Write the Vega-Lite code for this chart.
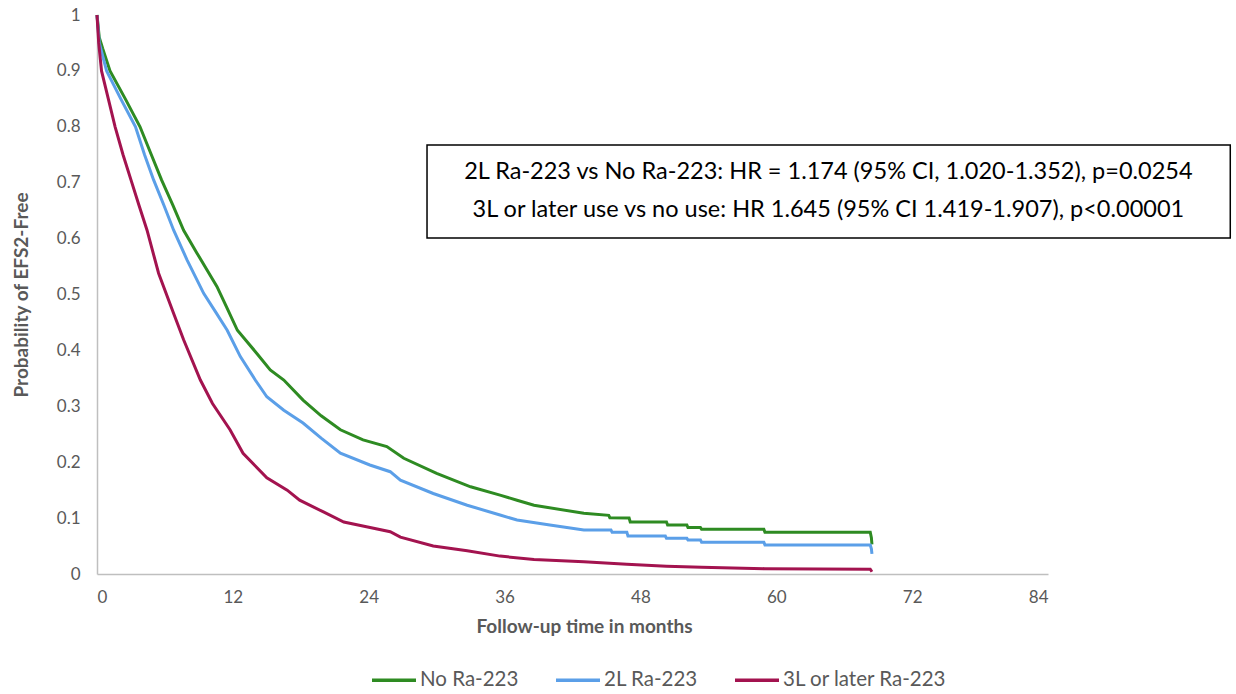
{
  "$schema": "https://vega.github.io/schema/vega-lite/v6.json",
  "autosize": "none",
  "width": 951,
  "height": 559,
  "padding": {"left": 97, "top": 15, "right": 188, "bottom": 120},
  "config": {
    "view": {"stroke": null},
    "font": "Lato",
    "axis": {"labelFont": "Lato", "titleFont": "Lato", "labelColor": "#595959", "titleColor": "#595959", "domainColor": "#bfbfbf", "domainWidth": 1.5, "ticks": false, "grid": false, "labelFontSize": 17, "titleFontSize": 19, "titleFontWeight": "bold"},
    "legend": {"labelFont": "Lato", "labelColor": "#595959", "labelFontSize": 20.5, "labelLimit": 400}
  },
  "datasets": {
    "km": [
      {"g": "No Ra-223", "t": 0, "s": 1},
      {"g": "No Ra-223", "t": 0.2, "s": 0.96},
      {"g": "No Ra-223", "t": 0.5, "s": 0.94},
      {"g": "No Ra-223", "t": 1.15, "s": 0.9},
      {"g": "No Ra-223", "t": 2.5, "s": 0.85},
      {"g": "No Ra-223", "t": 3.8, "s": 0.8},
      {"g": "No Ra-223", "t": 4.8, "s": 0.75},
      {"g": "No Ra-223", "t": 5.7, "s": 0.705},
      {"g": "No Ra-223", "t": 6.7, "s": 0.66},
      {"g": "No Ra-223", "t": 7.65, "s": 0.615},
      {"g": "No Ra-223", "t": 8.83, "s": 0.574},
      {"g": "No Ra-223", "t": 10.6, "s": 0.514},
      {"g": "No Ra-223", "t": 11.5, "s": 0.475},
      {"g": "No Ra-223", "t": 12.4, "s": 0.436},
      {"g": "No Ra-223", "t": 14.1, "s": 0.395},
      {"g": "No Ra-223", "t": 15.3, "s": 0.365},
      {"g": "No Ra-223", "t": 16.5, "s": 0.347},
      {"g": "No Ra-223", "t": 18.2, "s": 0.311},
      {"g": "No Ra-223", "t": 19.8, "s": 0.283},
      {"g": "No Ra-223", "t": 21.5, "s": 0.258},
      {"g": "No Ra-223", "t": 23.5, "s": 0.24},
      {"g": "No Ra-223", "t": 25.6, "s": 0.228},
      {"g": "No Ra-223", "t": 27.1, "s": 0.207},
      {"g": "No Ra-223", "t": 30.0, "s": 0.18},
      {"g": "No Ra-223", "t": 33.0, "s": 0.156},
      {"g": "No Ra-223", "t": 35.6, "s": 0.141},
      {"g": "No Ra-223", "t": 37.1, "s": 0.132},
      {"g": "No Ra-223", "t": 38.6, "s": 0.123},
      {"g": "No Ra-223", "t": 43.0, "s": 0.1085},
      {"g": "No Ra-223", "t": 45.2, "s": 0.105},
      {"g": "No Ra-223", "t": 45.3, "s": 0.1007},
      {"g": "No Ra-223", "t": 47.0, "s": 0.1},
      {"g": "No Ra-223", "t": 47.1, "s": 0.093},
      {"g": "No Ra-223", "t": 50.3, "s": 0.093},
      {"g": "No Ra-223", "t": 50.4, "s": 0.0877},
      {"g": "No Ra-223", "t": 52.1, "s": 0.0877},
      {"g": "No Ra-223", "t": 52.2, "s": 0.083},
      {"g": "No Ra-223", "t": 53.3, "s": 0.083},
      {"g": "No Ra-223", "t": 53.4, "s": 0.08},
      {"g": "No Ra-223", "t": 58.9, "s": 0.08},
      {"g": "No Ra-223", "t": 59.0, "s": 0.0746},
      {"g": "No Ra-223", "t": 68.3, "s": 0.0746},
      {"g": "No Ra-223", "t": 68.4, "s": 0.065},
      {"g": "No Ra-223", "t": 68.45, "s": 0.053},

      {"g": "2L Ra-223", "t": 0, "s": 1},
      {"g": "2L Ra-223", "t": 0.2, "s": 0.95},
      {"g": "2L Ra-223", "t": 0.85, "s": 0.9},
      {"g": "2L Ra-223", "t": 2.1, "s": 0.85},
      {"g": "2L Ra-223", "t": 3.4, "s": 0.8},
      {"g": "2L Ra-223", "t": 4.2, "s": 0.75},
      {"g": "2L Ra-223", "t": 5.0, "s": 0.705},
      {"g": "2L Ra-223", "t": 5.9, "s": 0.66},
      {"g": "2L Ra-223", "t": 6.77, "s": 0.615},
      {"g": "2L Ra-223", "t": 7.95, "s": 0.562},
      {"g": "2L Ra-223", "t": 9.42, "s": 0.502},
      {"g": "2L Ra-223", "t": 10.5, "s": 0.468},
      {"g": "2L Ra-223", "t": 11.5, "s": 0.436},
      {"g": "2L Ra-223", "t": 12.66, "s": 0.389},
      {"g": "2L Ra-223", "t": 13.98, "s": 0.347},
      {"g": "2L Ra-223", "t": 15.0, "s": 0.317},
      {"g": "2L Ra-223", "t": 16.5, "s": 0.293},
      {"g": "2L Ra-223", "t": 18.2, "s": 0.27},
      {"g": "2L Ra-223", "t": 19.8, "s": 0.243},
      {"g": "2L Ra-223", "t": 21.5, "s": 0.216},
      {"g": "2L Ra-223", "t": 24.1, "s": 0.195},
      {"g": "2L Ra-223", "t": 25.9, "s": 0.183},
      {"g": "2L Ra-223", "t": 26.8, "s": 0.168},
      {"g": "2L Ra-223", "t": 29.7, "s": 0.144},
      {"g": "2L Ra-223", "t": 32.7, "s": 0.123},
      {"g": "2L Ra-223", "t": 35.6, "s": 0.1055},
      {"g": "2L Ra-223", "t": 37.1, "s": 0.0966},
      {"g": "2L Ra-223", "t": 40.0, "s": 0.0877},
      {"g": "2L Ra-223", "t": 43.0, "s": 0.0787},
      {"g": "2L Ra-223", "t": 45.4, "s": 0.0787},
      {"g": "2L Ra-223", "t": 45.5, "s": 0.0746},
      {"g": "2L Ra-223", "t": 46.8, "s": 0.0746},
      {"g": "2L Ra-223", "t": 46.9, "s": 0.068},
      {"g": "2L Ra-223", "t": 50.2, "s": 0.068},
      {"g": "2L Ra-223", "t": 50.3, "s": 0.0638},
      {"g": "2L Ra-223", "t": 52.1, "s": 0.0638},
      {"g": "2L Ra-223", "t": 52.2, "s": 0.061},
      {"g": "2L Ra-223", "t": 53.3, "s": 0.061},
      {"g": "2L Ra-223", "t": 53.4, "s": 0.057},
      {"g": "2L Ra-223", "t": 58.9, "s": 0.057},
      {"g": "2L Ra-223", "t": 59.0, "s": 0.052},
      {"g": "2L Ra-223", "t": 68.3, "s": 0.052},
      {"g": "2L Ra-223", "t": 68.4, "s": 0.045},
      {"g": "2L Ra-223", "t": 68.45, "s": 0.036},

      {"g": "3L or later Ra-223", "t": 0, "s": 1},
      {"g": "3L or later Ra-223", "t": 0.15, "s": 0.95},
      {"g": "3L or later Ra-223", "t": 0.4, "s": 0.9},
      {"g": "3L or later Ra-223", "t": 1.0, "s": 0.85},
      {"g": "3L or later Ra-223", "t": 1.6, "s": 0.8},
      {"g": "3L or later Ra-223", "t": 2.3, "s": 0.75},
      {"g": "3L or later Ra-223", "t": 3.0, "s": 0.705},
      {"g": "3L or later Ra-223", "t": 3.7, "s": 0.66},
      {"g": "3L or later Ra-223", "t": 4.42, "s": 0.615},
      {"g": "3L or later Ra-223", "t": 5.44, "s": 0.538},
      {"g": "3L or later Ra-223", "t": 6.77, "s": 0.466},
      {"g": "3L or later Ra-223", "t": 7.65, "s": 0.419},
      {"g": "3L or later Ra-223", "t": 9.13, "s": 0.347},
      {"g": "3L or later Ra-223", "t": 10.2, "s": 0.305},
      {"g": "3L or later Ra-223", "t": 11.75, "s": 0.258},
      {"g": "3L or later Ra-223", "t": 12.9, "s": 0.216},
      {"g": "3L or later Ra-223", "t": 15.0, "s": 0.172},
      {"g": "3L or later Ra-223", "t": 16.8, "s": 0.15},
      {"g": "3L or later Ra-223", "t": 17.9, "s": 0.132},
      {"g": "3L or later Ra-223", "t": 20.0, "s": 0.111},
      {"g": "3L or later Ra-223", "t": 21.8, "s": 0.093},
      {"g": "3L or later Ra-223", "t": 23.8, "s": 0.0846},
      {"g": "3L or later Ra-223", "t": 25.9, "s": 0.0757},
      {"g": "3L or later Ra-223", "t": 26.8, "s": 0.066},
      {"g": "3L or later Ra-223", "t": 29.7, "s": 0.05},
      {"g": "3L or later Ra-223", "t": 32.7, "s": 0.0417},
      {"g": "3L or later Ra-223", "t": 35.6, "s": 0.032},
      {"g": "3L or later Ra-223", "t": 38.6, "s": 0.026},
      {"g": "3L or later Ra-223", "t": 43.0, "s": 0.022},
      {"g": "3L or later Ra-223", "t": 46.8, "s": 0.0173},
      {"g": "3L or later Ra-223", "t": 50.3, "s": 0.014},
      {"g": "3L or later Ra-223", "t": 53.4, "s": 0.012},
      {"g": "3L or later Ra-223", "t": 59.0, "s": 0.0095},
      {"g": "3L or later Ra-223", "t": 68.3, "s": 0.0085},
      {"g": "3L or later Ra-223", "t": 68.45, "s": 0.004}
    ],
    "note": [{"a": 1}]
  },
  "layer": [
    {
      "data": {"name": "km"},
      "mark": {"type": "line", "strokeWidth": 3, "interpolate": "linear"},
      "encoding": {
        "x": {"field": "t", "type": "quantitative", "scale": {"domain": [0, 84], "nice": false}, "axis": {"values": [0, 12, 24, 36, 48, 60, 72, 84], "title": "Follow-up time in months", "labelPadding": 15, "titlePadding": 12, "titleX": 487}},
        "y": {"field": "s", "type": "quantitative", "scale": {"domain": [0, 1], "nice": false}, "axis": {"values": [0, 0.1, 0.2, 0.3, 0.4, 0.5, 0.6, 0.7, 0.8, 0.9, 1], "format": "~g", "title": "Probability of EFS2-Free", "labelPadding": 17, "titlePadding": 25}},
        "color": {"field": "g", "type": "nominal", "scale": {"domain": ["No Ra-223", "2L Ra-223", "3L or later Ra-223"], "range": ["#2E8B22", "#5B9FE8", "#A3134F"]}, "legend": {"title": null, "orient": "none", "direction": "horizontal", "legendX": 273, "legendY": 641, "symbolType": "stroke", "symbolStrokeWidth": 3.5, "symbolSize": 1936, "columnPadding": 30, "labelOffset": 2}}
      }
    },
    {
      "data": {"name": "note"},
      "mark": {"type": "rect", "fill": "white", "stroke": "black", "strokeWidth": 1.5, "clip": false},
      "encoding": {
        "x": {"datum": 29.15, "type": "quantitative"},
        "x2": {"datum": 100.1},
        "y": {"datum": 0.7675, "type": "quantitative"},
        "y2": {"datum": 0.601}
      }
    },
    {
      "data": {"name": "note"},
      "mark": {"type": "text", "font": "Lato", "fontSize": 23.5, "color": "black", "align": "center", "baseline": "middle"},
      "encoding": {
        "x": {"datum": 64.6, "type": "quantitative"},
        "y": {"datum": 0.719, "type": "quantitative"},
        "text": {"value": "2L Ra-223 vs No Ra-223: HR = 1.174 (95% CI, 1.020-1.352), p=0.0254"}
      }
    },
    {
      "data": {"name": "note"},
      "mark": {"type": "text", "font": "Lato", "fontSize": 23.5, "color": "black", "align": "center", "baseline": "middle"},
      "encoding": {
        "x": {"datum": 64.6, "type": "quantitative"},
        "y": {"datum": 0.651, "type": "quantitative"},
        "text": {"value": "3L or later use vs no use: HR 1.645 (95% CI 1.419-1.907), p<0.00001"}
      }
    }
  ]
}
